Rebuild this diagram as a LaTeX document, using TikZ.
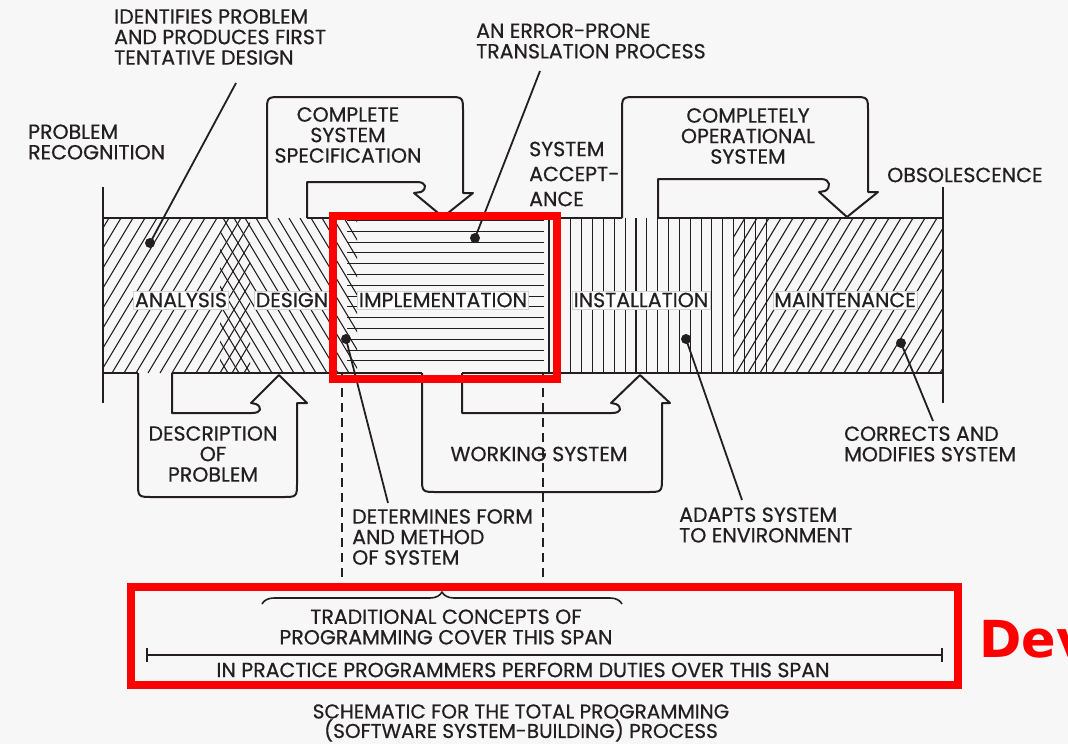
\documentclass[tikz,border=0pt]{standalone}
\usepackage{fontspec}
\setmainfont{Poppins}[FakeBold=0.6]
\newfontfamily\devfont{DejaVu Sans}
\usepackage{xcolor}
\usepackage{tikz}
\usetikzlibrary{positioning, arrows.meta, calc, decorations.pathreplacing}
\definecolor{paper}{HTML}{F7F7F7}
\definecolor{ink}{HTML}{231F20}
\definecolor{mark}{HTML}{FF0000}

\tikzset{
  outline/.style={draw=ink, line width=2pt, line join=round},
  hatch/.style={draw=ink, line width=1.1pt},
  leader/.style={draw=ink, line width=1.8pt},
  dot/.style={circle, fill=ink, inner sep=0pt, minimum size=10pt},
  lbl/.style={text=ink, inner sep=0pt, align=left, font=\fontsize{20.5}{20.5}\selectfont},
  phase/.style={text=ink, fill=white, draw=gray!35, line width=0.4pt, inner sep=1.5pt,
    font=\fontsize{20.5}{20.5}\selectfont},
  dashln/.style={draw=ink, line width=2pt, dash pattern=on 9pt off 6pt},
  redbox/.style={draw=mark, line width=8pt}
}

\begin{document}
\begin{tikzpicture}[x=1pt, y=-1pt]
  \useasboundingbox (0,0) rectangle (1068,744);
  \fill[paper] (0,0) rectangle (1068,744);

  % hatching of the phases
  \begin{scope}
    \clip (103,218) rectangle (943,373);
    \begin{scope}
      \clip (103,210) rectangle (250,380);
      \foreach \x in {4,16,...,256} \draw[hatch] (\x,373) -- ++(93,-155);
    \end{scope}
    \begin{scope}
      \clip (220,210) rectangle (357,380);
      \foreach \x in {124,135,...,360} \draw[hatch] (\x,218) -- ++(93,155);
    \end{scope}
    \foreach \i in {0,...,13} \draw[hatch] (347,220.5+\i*10.8) -- (544,220.5+\i*10.8);
    \draw[hatch] (549,218) -- (549,373);
    \foreach \i in {0,...,19} \draw[hatch] (560+\i*10.85,218) -- ++(0,155);
    \begin{scope}
      \clip (733,210) rectangle (943,380);
      \foreach \x in {640,652,...,944} \draw[hatch] (\x,373) -- ++(93,-155);
    \end{scope}
  \end{scope}

  % bar edges and ends
  \draw[outline] (103,218) -- (267,218) (307,218) -- (622,218) (658,218) -- (943,218);
  \draw[outline] (103,373) -- (138,373) (172,373) -- (422,373) (462,373) -- (943,373);
  \draw[outline] (103,187) -- (103,403);
  \draw[outline] (943,187) -- (943,403);

  % flow arrows
  \draw[outline] (267,218) -- (267,112) .. controls (267,97) .. (282,97) -- (448,97)
    .. controls (463,97) .. (463,112) -- (463,193) -- (473,193) -- (443,217) -- (414,193)
    -- (421,192) .. controls (427,189) and (427,182) .. (417,182) -- (307,182) -- (307,218);
  \draw[outline] (622,218) -- (622,112) .. controls (622,97) .. (637,97) -- (853,97)
    .. controls (868,97) .. (868,112) -- (868,192) -- (878,192) -- (847,217) -- (819,192)
    -- (825,191) .. controls (831,188) and (831,179) .. (821,179) -- (658,179) -- (658,218);
  \draw[outline] (138,373) -- (138,482) .. controls (138,497) .. (153,497) -- (282,497)
    .. controls (297,497) .. (297,482) -- (297,403) -- (307,403) -- (279,375) -- (251,403)
    -- (256,404) .. controls (262,407) and (262,413) .. (252,413) -- (172,413) -- (172,373);
  \draw[outline] (422,373) -- (422,477) .. controls (422,492) .. (437,492) -- (647,492)
    .. controls (662,492) .. (662,477) -- (662,403) -- (670,403) -- (640,375) -- (611,403)
    -- (616,404) .. controls (622,407) and (622,413) .. (612,413) -- (462,413) -- (462,373);

  % phase names
  \node[phase] (ana) at (181,300) {ANALYSIS};
  \node[phase] (des) at (292,300) {DESIGN};
  \node[phase] (imp) at (443,300) {IMPLEMENTATION};
  \node[phase] (ins) at (641,300) {INSTALLATION};
  \node[phase] (mnt) at (845,300) {MAINTENANCE};

  % texts
  \node[lbl, anchor=west] (recog) at (28,142) {PROBLEM\\RECOGNITION};
  \node[lbl, anchor=west] (ident) at (114,37) {IDENTIFIES PROBLEM\\AND PRODUCES FIRST\\TENTATIVE DESIGN};
  \node[lbl, align=center] (spec) at (348,135) {COMPLETE\\SYSTEM\\SPECIFICATION};
  \node[lbl, anchor=west] (error) at (476,41) {AN ERROR-PRONE\\TRANSLATION PROCESS};
  \node[lbl, anchor=west, font=\fontsize{20.5}{25}\selectfont] (accept) at (529,174) {SYSTEM\\ACCEPT-\\ANCE};
  \node[lbl, align=center] (oper) at (748,136) {COMPLETELY\\OPERATIONAL\\SYSTEM};
  \node[lbl, anchor=west] (obs) at (887,175) {OBSOLESCENCE};
  \node[lbl, align=center] (descr) at (213,454) {DESCRIPTION\\OF\\PROBLEM};
  \node[lbl] (work) at (539,454) {WORKING SYSTEM};
  \node[lbl, anchor=west] (form) at (352,537) {DETERMINES FORM\\AND METHOD\\OF SYSTEM};
  \node[lbl, anchor=west] (adapt) at (679,525) {ADAPTS SYSTEM\\TO ENVIRONMENT};
  \node[lbl, anchor=west] (corr) at (844,444) {CORRECTS AND\\MODIFIES SYSTEM};

  % pointers
  \node[dot] (pana) at (150,243) {};
  \node[dot] (pimp) at (475,238) {};
  \node[dot] (pform) at (346,339) {};
  \node[dot] (pins) at (686,339) {};
  \node[dot] (pmnt) at (901,343) {};
  \coordinate (eident) at (236,83);
  \coordinate (eerror) at (540,71);
  \coordinate (eform) at (388,503);
  \coordinate (eadapt) at (742,500);
  \coordinate (ecorr) at (933,421);
  \draw[leader] (eident) -- (pana.center);
  \draw[leader] (eerror) -- (pimp.center);
  \draw[leader] (pform.center) -- (eform);
  \draw[leader] (pins.center) -- (eadapt);
  \draw[leader] (pmnt.center) -- (ecorr);

  % spans
  \coordinate (dl) at (342,373);
  \coordinate (dr) at (543,373);
  \draw[dashln] (dl) -- (342,583);
  \draw[dashln] (dr) -- (543,583);
  \coordinate (bl) at (262,604);
  \coordinate (br) at (622,604);
  \draw[outline, line width=1.6pt, decorate, decoration={brace, amplitude=12pt}] (bl) -- (br);
  \node[lbl, align=center] (trad) at (446,627) {TRADITIONAL CONCEPTS OF\\PROGRAMMING COVER THIS SPAN};
  \coordinate (sl) at (146,655);
  \coordinate (sr) at (943,655);
  \draw[outline, line width=1.6pt, {Bar[width=14pt]}-{Bar[width=14pt]}] (sl) -- (sr);
  \node[lbl] (pract) at (523,670) {IN PRACTICE PROGRAMMERS PERFORM DUTIES OVER THIS SPAN};
  \node[lbl, align=center, font=\fontsize{20}{19.5}\selectfont] (cap) at (521,723) {SCHEMATIC FOR THE TOTAL PROGRAMMING\\(SOFTWARE SYSTEM-BUILDING) PROCESS};

  % highlights
  \draw[redbox] (333,216) rectangle (557,379);
  \draw[redbox] (131,587) rectangle (958,685);
  \node[text=mark, inner sep=0pt, anchor=base west, font=\devfont\bfseries\fontsize{51}{51}\selectfont] (dev) at (979,657) {Dev};
\end{tikzpicture}
\end{document}
